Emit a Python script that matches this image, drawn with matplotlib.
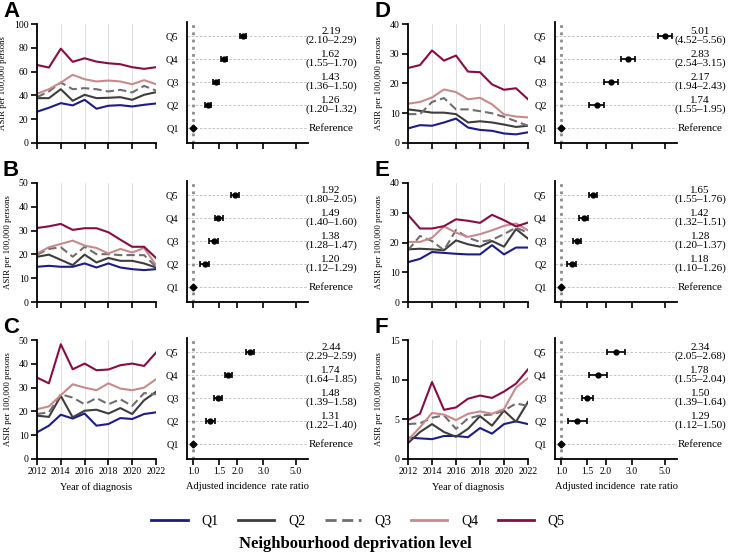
import matplotlib
matplotlib.use("Agg")
import matplotlib.pyplot as plt
from matplotlib.lines import Line2D
from matplotlib.ticker import FixedLocator, NullLocator, NullFormatter

plt.rcParams['font.family'] = ['Liberation Serif', 'DejaVu Serif']

years = list(range(2012, 2023))
quintiles = ['Q1', 'Q2', 'Q3', 'Q4', 'Q5']
colors = ['#1c1c8a', '#3d3d3d', '#6e6e6e', '#c98a8c', '#8a0c44']
styles = ['-', '-', '--', '-', '-']

# ASIR per 100,000 by quintile (Q1..Q5)
asir_A = [
    [26.3, 29.6, 33.5, 31.6, 36.3, 28.8, 31.3, 31.8, 30.7, 32.1, 33.2],
    [37.7, 37.7, 45.2, 35.5, 40.5, 37.7, 38.0, 38.5, 36.3, 40.5, 42.7],
    [38.5, 43.3, 50.8, 45.2, 46.1, 45.2, 43.3, 44.7, 42.5, 48.0, 44.1],
    [41.3, 45.2, 50.8, 57.3, 53.6, 51.7, 52.5, 51.7, 49.4, 52.8, 49.4],
    [65.6, 63.4, 79.3, 68.2, 71.2, 68.4, 67.0, 66.2, 63.7, 62.3, 63.7],
]
asir_B = [
    [14.8, 15.2, 14.8, 14.8, 16.2, 14.5, 16.2, 14.5, 13.8, 13.4, 13.8],
    [19.0, 19.9, 17.7, 15.5, 19.9, 16.6, 18.5, 17.3, 17.3, 16.2, 14.5],
    [19.9, 22.3, 23.0, 19.0, 23.2, 20.1, 20.1, 19.7, 19.7, 19.7, 14.8],
    [20.4, 23.0, 24.4, 25.8, 23.7, 22.7, 20.4, 22.3, 20.8, 22.7, 15.5],
    [31.1, 31.8, 32.8, 30.3, 31.0, 31.0, 29.3, 26.2, 23.2, 23.2, 18.5],
]
asir_C = [
    [11.2, 14.0, 18.6, 17.0, 19.1, 14.0, 14.7, 17.2, 16.8, 18.9, 19.6],
    [18.2, 17.7, 26.5, 17.5, 20.3, 20.7, 19.1, 21.4, 18.9, 24.7, 28.2],
    [18.9, 19.6, 27.2, 25.8, 23.0, 25.6, 23.0, 25.1, 22.3, 27.7, 27.2],
    [20.9, 22.1, 26.8, 31.4, 30.0, 28.9, 31.8, 29.6, 28.9, 30.0, 33.5],
    [34.2, 31.8, 48.2, 37.7, 40.1, 37.3, 37.6, 39.4, 40.1, 39.1, 44.7],
]
asir_D = [
    [4.9, 6.0, 5.8, 6.9, 8.2, 5.2, 4.4, 4.1, 3.2, 2.9, 3.6],
    [11.3, 10.8, 10.2, 10.2, 9.7, 6.9, 7.3, 6.9, 6.2, 5.4, 5.8],
    [9.7, 9.7, 13.8, 15.1, 11.3, 11.3, 10.7, 10.0, 8.8, 7.3, 5.8],
    [13.2, 13.8, 15.3, 18.0, 17.1, 14.7, 15.2, 13.0, 9.6, 8.9, 8.6],
    [25.2, 26.2, 31.1, 27.7, 29.4, 24.0, 23.8, 19.7, 17.9, 18.4, 14.7],
]
asir_E = [
    [13.4, 14.5, 16.8, 16.5, 16.2, 16.0, 16.0, 19.1, 16.0, 18.3, 18.3],
    [17.7, 17.9, 17.7, 17.4, 20.7, 19.4, 18.6, 20.5, 18.6, 24.5, 21.3],
    [17.4, 22.2, 20.5, 17.4, 24.2, 21.6, 20.2, 20.9, 22.8, 25.0, 23.3],
    [20.2, 20.2, 21.6, 25.4, 23.3, 21.9, 22.8, 24.1, 25.6, 26.4, 24.1],
    [29.3, 24.7, 24.7, 25.5, 27.8, 27.3, 26.6, 29.3, 27.5, 25.4, 26.7],
]
asir_F = [
    [2.7, 2.6, 2.5, 2.9, 2.9, 2.75, 3.9, 3.2, 4.4, 4.75, 4.4],
    [2.0, 3.4, 4.4, 3.4, 2.8, 3.8, 5.4, 4.2, 6.1, 4.7, 7.2],
    [4.4, 4.5, 5.2, 5.5, 3.8, 5.1, 5.5, 5.6, 6.1, 7.0, 6.7],
    [2.4, 4.0, 5.8, 5.6, 4.9, 5.7, 6.0, 5.7, 6.3, 9.0, 10.2],
    [4.9, 5.7, 9.7, 6.2, 6.5, 7.6, 8.0, 7.7, 8.5, 9.5, 11.3],
]

# adjusted IRR (Q2..Q5): estimate, lower, upper
irr_A = [1.26, 1.43, 1.62, 2.19]
lo_A = [1.20, 1.36, 1.55, 2.10]
hi_A = [1.32, 1.50, 1.70, 2.29]
irr_B = [1.20, 1.38, 1.49, 1.92]
lo_B = [1.12, 1.28, 1.40, 1.80]
hi_B = [1.29, 1.47, 1.60, 2.05]
irr_C = [1.31, 1.48, 1.74, 2.44]
lo_C = [1.22, 1.39, 1.64, 2.29]
hi_C = [1.40, 1.58, 1.85, 2.59]
irr_D = [1.74, 2.17, 2.83, 5.01]
lo_D = [1.55, 1.94, 2.54, 4.52]
hi_D = [1.95, 2.43, 3.15, 5.56]
irr_E = [1.18, 1.28, 1.42, 1.65]
lo_E = [1.10, 1.20, 1.32, 1.55]
hi_E = [1.26, 1.37, 1.51, 1.76]
irr_F = [1.29, 1.50, 1.78, 2.34]
lo_F = [1.12, 1.39, 1.55, 2.05]
hi_F = [1.50, 1.64, 2.04, 2.68]

panels = [
    ('A', asir_A, 100, 20, irr_A, lo_A, hi_A, 0, 0),
    ('B', asir_B, 50, 10, irr_B, lo_B, hi_B, 0, 1),
    ('C', asir_C, 50, 10, irr_C, lo_C, hi_C, 0, 2),
    ('D', asir_D, 40, 10, irr_D, lo_D, hi_D, 1, 0),
    ('E', asir_E, 40, 10, irr_E, lo_E, hi_E, 1, 1),
    ('F', asir_F, 15, 5, irr_F, lo_F, hi_F, 1, 2),
]

W, H = 741, 552
fig = plt.figure(figsize=(W / 100, H / 100), dpi=100)


def box(x0, y0, x1, y1):
    return [x0 / W, 1 - y1 / H, (x1 - x0) / W, (y1 - y0) / H]


row_top = [24, 183, 340]
row_h = 119
line_x = [(37, 156), (408, 528)]
forest_x = [(187, 308), (555, 677)]
letter_x = [3, 375]

for letter, asir, ymax, ystep, irr, lo, hi, col, row in panels:
    top = row_top[row]
    bot = top + row_h
    bottom_row = row == 2

    # line chart
    ax = fig.add_axes(box(line_x[col][0], top, line_x[col][1], bot))
    for q in range(5):
        ax.plot(years, asir[q], color=colors[q], ls=styles[q], lw=1.5,
                dashes=(4, 2) if styles[q] == '--' else (None, None))
    ax.set_xlim(2012, 2022)
    ax.set_ylim(0, ymax)
    ax.set_xticks(range(2012, 2023, 2))
    ax.set_yticks(range(0, ymax + 1, ystep))
    ax.grid(axis='x', color='#dcdcdc', lw=0.6)
    ax.set_axisbelow(True)
    for s in ['top', 'right']:
        ax.spines[s].set_visible(False)
    for s in ['left', 'bottom']:
        ax.spines[s].set_linewidth(1.3)
    ax.tick_params(direction='out', length=4, width=1.2, labelsize=7, pad=2)
    ax.set_ylabel('ASIR per 100,000 persons', fontsize=6.3, labelpad=5)
    if bottom_row:
        ax.set_xlabel('Year of diagnosis', fontsize=7.5, labelpad=4)
    else:
        ax.set_xticklabels([])
    fig.text(letter_x[col] / W, 1 - (top - 7) / H, letter, fontsize=16,
             fontweight='bold', family='Liberation Sans', va='baseline', ha='left')

    # forest plot
    fx = fig.add_axes(box(forest_x[col][0], top - 2, forest_x[col][1], bot))
    fx.set_xscale('log')
    fx.set_xlim(0.91, 6.05)
    fx.set_ylim(0.35, 5.6)
    for y in range(1, 6):
        fx.axhline(y, color='#bdbdbd', ls=(0, (3, 2)), lw=0.6, zorder=0)
    fx.axvline(1.0, color='#8c8c8c', ls=(0, (1, 1.6)), lw=2.0, zorder=1)
    ypos = [2, 3, 4, 5]
    xerr = [[e - l for e, l in zip(irr, lo)], [h - e for e, h in zip(irr, hi)]]
    fx.errorbar(irr, ypos, xerr=xerr, fmt='o', color='black', ms=3.5,
                capsize=2.5, elinewidth=1.2, capthick=1.2, zorder=3)
    fx.plot([1.0], [1], 'D', color='black', ms=3.5, zorder=3)
    for e, l, h, y in zip(irr, lo, hi, ypos):
        fx.text(1.19, y, f'{e:.2f}\n({l:.2f}\u2013{h:.2f})',
                transform=fx.get_yaxis_transform(), ha='center', va='center',
                fontsize=8, linespacing=1.0, clip_on=False)
    fx.text(1.19, 1, 'Reference', transform=fx.get_yaxis_transform(),
            ha='center', va='center', fontsize=8, clip_on=False)
    fx.set_yticks([1, 2, 3, 4, 5])
    fx.set_yticklabels(quintiles, fontsize=7.5)
    fx.xaxis.set_major_locator(FixedLocator([1.0, 1.5, 2.0, 3.0, 5.0]))
    fx.xaxis.set_minor_locator(NullLocator())
    fx.xaxis.set_minor_formatter(NullFormatter())
    for s in ['top', 'right']:
        fx.spines[s].set_visible(False)
    for s in ['left', 'bottom']:
        fx.spines[s].set_linewidth(1.3)
    fx.tick_params(axis='y', length=0, pad=6)
    fx.tick_params(axis='x', direction='out', length=4, width=1.2, labelsize=7, pad=2)
    if bottom_row:
        fx.set_xticklabels(['1.0', '1.5', '2.0', '3.0', '5.0'])
        fx.set_xlabel('Adjusted incidence  rate ratio', fontsize=7.5, labelpad=4)
    else:
        fx.set_xticklabels([])

handles = [Line2D([0], [0], color=colors[q], lw=2,
                  dashes=(4, 2) if styles[q] == '--' else (None, None))
           for q in range(5)]
leg = fig.legend(handles, quintiles, loc='center', bbox_to_anchor=(358 / W, 1 - 521 / H),
                 ncol=5, frameon=False, fontsize=10, handlelength=2.6,
                 handletextpad=1.0, columnspacing=1.4)
fig.text(355 / W, 1 - 544 / H, 'Neighbourhood deprivation level', ha='center',
         va='center', fontsize=12, fontweight='bold')

fig.savefig('out.png', dpi=100)
